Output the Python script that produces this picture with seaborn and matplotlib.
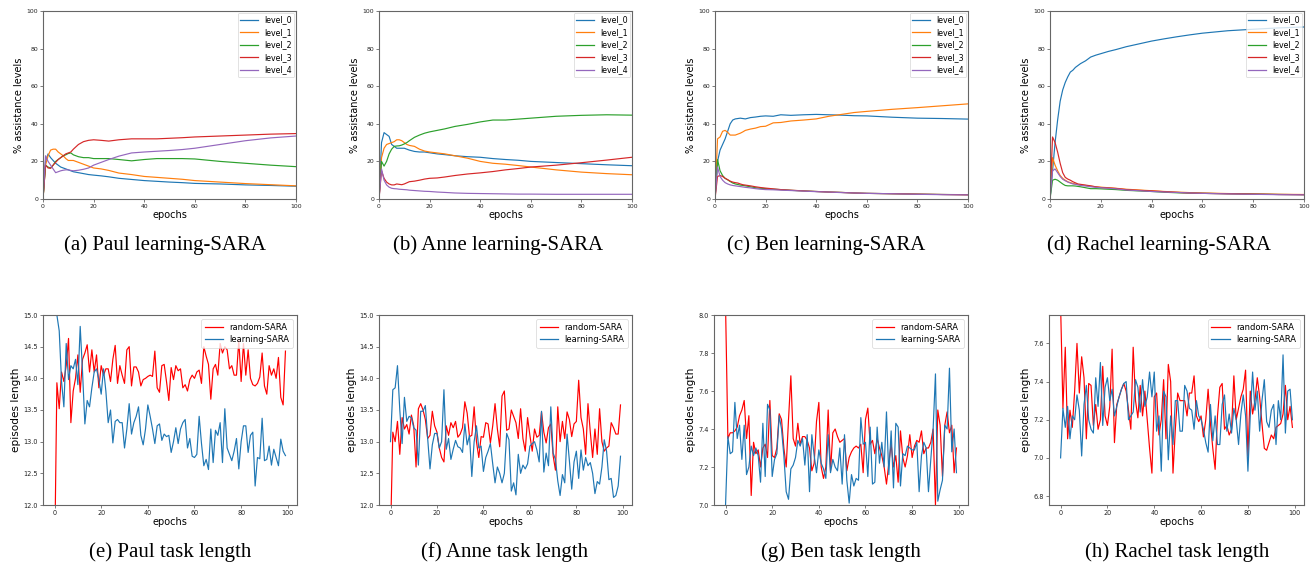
import pandas as pd
import seaborn as sns
import matplotlib.pyplot as plt

# ---- top row: % assistance levels (learning-SARA), read at these epochs
epochs_top = [0, 1, 2, 3, 4, 5, 6, 7, 8, 9, 10, 11, 12, 14, 16, 18, 20, 23, 26, 30,
              35, 40, 45, 50, 55, 60, 70, 80, 90, 100]

paul_l0 = [0, 20, 24, 22, 20.5, 19, 18, 17, 16.5, 16, 15.5, 15, 14.5, 14, 13.5, 13, 12.7, 12.3, 11.8, 11,
           10.4, 9.8, 9.4, 9, 8.7, 8.3, 8, 7.5, 7.2, 6.8]
paul_l1 = [0, 18, 23, 26, 26.5, 26.5, 25, 24, 23, 21.5, 20.5, 20.5, 20.5, 19.5, 18.5, 17.5, 16.5, 16, 15.2, 13.8,
           13, 12, 11.5, 11, 10.5, 9.8, 9, 8.2, 7.6, 7.0]
paul_l2 = [0, 18, 17, 16.5, 18, 20, 21, 22, 23, 23.5, 24.2, 24.5, 23.5, 22.5, 22, 22, 21.5, 21.5, 21.5, 21,
           20.3, 21, 21.5, 21.5, 21.5, 21.3, 20, 19, 18, 17.2]
paul_l3 = [0, 18, 16.5, 16.3, 18, 19.5, 21, 22, 23, 24, 24.5, 25, 26.5, 29, 30.5, 31.2, 31.5, 31.2, 30.8, 31.5,
           32, 32, 32, 32.3, 32.6, 33, 33.5, 34, 34.5, 34.8]
paul_l4 = [0, 23, 20, 18, 16, 14, 14.5, 15, 15.3, 15.5, 15.5, 15.2, 15, 15.3, 15.8, 16.5, 18, 19.5, 21, 22.8,
           24.5, 25, 25.4, 25.8, 26.3, 27, 29, 31, 32.5, 33.5]

anne_l0 = [0, 30, 35.3, 34.3, 33.3, 29, 28, 27, 27, 27, 27, 26.5, 26, 25.3, 25, 25, 24.6, 24, 23.6, 23,
           22.5, 22.2, 21.5, 21, 20.6, 20, 19.4, 18.8, 18.2, 17.7]
anne_l1 = [0, 22, 27, 29, 29.5, 30, 30.5, 31.5, 31.5, 31, 30, 29, 28.5, 28, 26.5, 25.5, 25, 24.5, 24, 23,
           21.7, 20, 19, 18.5, 17.8, 17, 15.5, 14.3, 13.5, 12.9]
anne_l2 = [0, 20, 17.5, 20, 24, 26.5, 28, 28.2, 28.3, 28.7, 29.3, 30, 31, 32.8, 34, 35, 35.7, 36.5, 37.3, 38.6,
           39.7, 41, 42, 42, 42.5, 43, 44, 44.5, 44.8, 44.6]
anne_l3 = [0, 15, 11, 9, 8, 7.5, 7.5, 8, 7.8, 7.6, 8, 8.6, 9.2, 9.5, 10, 10.6, 11, 11.2, 11.7, 12.5,
           13.3, 13.9, 14.6, 15.5, 16.2, 17, 18, 19.3, 20.7, 22.2]
anne_l4 = [0, 16, 10, 7.5, 6.3, 5.7, 5.5, 5.4, 5.2, 5.1, 5, 4.9, 4.7, 4.5, 4.3, 4.1, 4, 3.7, 3.5, 3.2,
           3, 2.9, 2.8, 2.7, 2.6, 2.6, 2.5, 2.5, 2.5, 2.5]

ben_l0 = [0, 20, 26, 29, 32, 36, 40, 42, 42.6, 42.8, 43, 42.8, 42.6, 43.3, 43.6, 44, 44.2, 44, 44.8, 44.5,
          44.8, 45, 44.8, 44.6, 44.3, 44.2, 43.5, 43, 42.8, 42.5]
ben_l1 = [0, 32, 33, 36, 36.5, 35.5, 34, 34, 34, 34.5, 35, 35.7, 36.5, 37.2, 37.7, 38.5, 38.7, 40.5, 40.7, 41.5,
          42, 42.6, 44, 45, 46, 46.6, 47.7, 48.6, 49.6, 50.6]
ben_l2 = [0, 21, 15, 12.5, 11, 10.2, 9.3, 8.5, 8, 7.7, 7.4, 7.2, 7, 6.5, 6, 5.7, 5.5, 5.2, 5, 4.6,
          4.3, 4, 3.7, 3.5, 3.2, 3, 2.8, 2.6, 2.4, 2.3]
ben_l3 = [0, 12, 12.5, 12, 11, 10.3, 9.5, 9, 8.7, 8.5, 8, 7.6, 7.4, 7, 6.5, 6.1, 5.8, 5.4, 5, 4.7,
          4.3, 4, 3.7, 3.5, 3.2, 3, 2.8, 2.6, 2.4, 2.2]
ben_l4 = [0, 17, 12, 10, 8.7, 8, 7.5, 7.2, 7, 6.8, 6.6, 6.4, 6.2, 5.9, 5.5, 5.2, 5, 4.9, 4.7, 4.5,
          4.2, 3.9, 3.7, 3.4, 3.2, 3, 2.8, 2.5, 2.3, 2.2]

rachel_l0 = [0, 15, 30, 42, 52, 58, 62, 65, 67.5, 68.5, 70, 71, 72, 73.5, 75.5, 76.5, 77.3, 78.5, 79.5, 81,
             82.5, 84, 85.2, 86.3, 87.3, 88.2, 89.5, 90.3, 91, 91.5]
rachel_l1 = [0, 22, 18, 15, 12.5, 11, 10, 9.2, 8.7, 8.3, 8, 7.7, 7.5, 7.2, 6.8, 6.5, 6.3, 6, 5.7, 5.2,
             4.8, 4.4, 4, 3.7, 3.4, 3.2, 2.9, 2.7, 2.5, 2.4]
rachel_l2 = [0, 10, 10.5, 10, 9, 8, 7.2, 7, 7, 7, 6.9, 6.7, 6.5, 6, 5.5, 5.5, 5.4, 5.2, 5, 4.6,
             4.3, 4, 3.6, 3.3, 3.1, 3, 2.8, 2.6, 2.4, 2.3]
rachel_l3 = [0, 33, 30, 25, 19, 14, 11.5, 10.6, 10, 9.2, 8.6, 8, 7.8, 7.4, 7, 6.5, 6.1, 5.9, 5.6, 5,
             4.6, 4.3, 3.9, 3.5, 3.2, 3, 2.8, 2.6, 2.4, 2.3]
rachel_l4 = [0, 15, 16, 14, 12, 10.5, 9.7, 9, 8.5, 8, 7.8, 7.5, 7.2, 6.9, 6.5, 6.2, 6, 5.7, 5.4, 4.8,
             4.4, 4, 3.7, 3.5, 3.2, 3, 2.7, 2.5, 2.3, 2.2]

levels = ["level_0", "level_1", "level_2", "level_3", "level_4"]

# ---- bottom row: episode length per epoch (0..99)
epochs_bot = list(range(100))

paul_random = [11.0, 13.93, 13.52, 14.1, 13.95, 14.2, 14.63, 13.3, 13.8, 14.0,
               14.37, 13.78, 14.3, 14.4, 14.53, 14.1, 14.45, 14.1, 14.37, 13.85,
               14.2, 14.05, 14.15, 14.15, 13.95, 14.3, 14.52, 13.92, 14.2, 14.05,
               13.92, 14.45, 14.5, 13.88, 14.18, 14.18, 14.1, 13.88, 13.98, 14.0,
               14.03, 14.05, 14.03, 14.43, 13.85, 13.78, 14.2, 14.22, 13.95, 13.65,
               14.17, 13.98, 14.2, 14.12, 14.15, 13.85, 13.9, 13.8, 13.98, 14.05,
               14.0, 14.1, 14.13, 13.92, 14.5, 14.35, 14.22, 13.67, 14.15, 14.22,
               14.05, 14.55, 14.4, 14.5, 14.45, 14.15, 14.2, 14.05, 14.05, 14.6,
               13.95, 14.55, 14.05, 14.45, 14.0, 13.9, 13.88, 13.92, 14.02, 14.4,
               13.88, 13.75, 14.2, 14.05, 14.15, 14.0, 14.33, 13.7, 13.58, 14.43]
paul_learning = [15.3, 15.0, 14.75, 13.95, 13.55, 14.55, 13.98, 14.2, 14.15, 14.3,
                 13.9, 14.82, 14.1, 13.28, 13.65, 13.55, 13.85, 14.1, 14.15, 13.98,
                 13.75, 14.15, 13.8, 13.3, 13.5, 12.98, 13.32, 13.35, 13.3, 13.3,
                 12.9, 13.2, 13.6, 13.12, 13.3, 13.4, 13.55, 13.1, 12.95, 13.2,
                 13.58, 13.4, 13.2, 12.97, 13.25, 13.28, 13.02, 13.12, 13.08, 13.1,
                 12.83, 13.0, 13.22, 12.97, 13.2, 13.3, 13.35, 12.9, 13.05, 12.77,
                 12.75, 12.8, 13.4, 12.97, 12.62, 12.72, 12.56, 13.2, 12.67, 13.18,
                 13.1, 13.3, 12.67, 13.52, 12.9, 12.8, 12.7, 12.85, 13.05, 12.57,
                 13.0, 13.25, 13.25, 12.83, 13.1, 13.15, 12.3, 12.75, 12.73, 13.37,
                 12.7, 12.72, 12.93, 12.63, 12.88, 12.75, 12.62, 13.04, 12.85, 12.78]

anne_random = [11.5, 13.15, 13.0, 13.32, 12.8, 13.38, 13.2, 13.27, 13.12, 13.42,
               13.25, 12.6, 13.52, 13.6, 13.5, 13.35, 13.05, 13.1, 13.48, 13.25,
               13.15, 12.9, 12.75, 12.68, 13.25, 13.1, 13.3, 13.22, 13.32, 13.07,
               13.12, 13.22, 13.63, 13.45, 13.08, 13.1, 13.55, 13.0, 12.75, 13.08,
               13.07, 13.3, 13.28, 12.98, 13.25, 13.6, 13.2, 12.92, 13.72, 13.8,
               13.18, 13.2, 13.5, 13.4, 13.3, 13.05, 13.52, 13.05, 12.85, 13.38,
               13.1, 12.85, 13.2, 13.07, 13.1, 13.47, 13.15, 12.98, 13.22, 13.28,
               12.78, 12.55, 13.55, 13.0, 13.32, 13.05, 13.47, 13.35, 13.08, 13.28,
               13.32, 13.97, 13.38, 13.2, 12.8, 13.6, 13.15, 12.75, 13.2, 12.8,
               13.52, 13.0, 12.85, 12.9, 12.93, 13.3, 13.22, 13.12, 13.12, 13.58]
anne_learning = [13.0, 13.82, 13.85, 14.2, 13.5, 12.97, 13.7, 13.32, 13.4, 13.38,
                 13.22, 13.18, 12.63, 13.48, 13.48, 13.57, 13.05, 12.57, 12.95, 13.13,
                 13.13, 12.9, 13.0, 13.82, 12.88, 13.05, 12.72, 12.88, 13.02, 12.92,
                 12.9, 12.83, 13.28, 12.95, 13.1, 12.45, 13.0, 13.25, 12.9, 12.93,
                 12.53, 12.75, 12.85, 12.97, 12.65, 12.35, 12.6, 12.5, 12.35, 12.5,
                 13.13, 13.03, 12.22, 12.35, 12.16, 12.8, 12.5, 12.63, 12.57, 12.65,
                 12.93, 12.97, 13.0, 12.87, 12.68, 13.48, 12.52, 12.82, 12.62, 13.55,
                 12.82, 12.72, 12.38, 12.15, 12.48, 12.35, 13.12, 12.7, 12.25, 12.68,
                 12.85, 12.42, 12.87, 12.55, 12.75, 12.62, 12.67, 12.5, 12.18, 12.37,
                 12.33, 12.6, 13.03, 12.85, 12.4, 12.42, 12.12, 12.15, 12.3, 12.77]

ben_random = [8.05, 7.35, 7.38, 7.38, 7.39, 7.41, 7.47, 7.5, 7.55, 7.35,
              7.47, 7.05, 7.33, 7.27, 7.29, 7.2, 7.3, 7.32, 7.25, 7.55,
              7.26, 7.25, 7.3, 7.48, 7.45, 7.3, 7.2, 7.45, 7.68, 7.35,
              7.31, 7.43, 7.32, 7.36, 7.36, 7.34, 7.3, 7.18, 7.22, 7.44,
              7.54, 7.2, 7.14, 7.2, 7.5, 7.18, 7.38, 7.4, 7.36, 7.33,
              7.34, 7.35, 7.18, 7.25, 7.28, 7.3, 7.31, 7.3, 7.32, 7.17,
              7.45, 7.51, 7.32, 7.34, 7.27, 7.35, 7.3, 7.26, 7.2, 7.11,
              7.22, 7.32, 7.2, 7.26, 7.12, 7.39, 7.25, 7.2, 7.26, 7.37,
              7.25, 7.31, 7.34, 7.33, 7.39, 7.27, 7.3, 7.3, 7.33, 7.4,
              7.0, 7.5, 7.42, 7.15, 7.42, 7.49, 7.38, 7.42, 7.17, 7.3]
ben_learning = [7.0, 7.36, 7.27, 7.28, 7.54, 7.35, 7.42, 7.24, 7.42, 7.16,
                7.2, 7.31, 7.26, 7.3, 7.26, 7.12, 7.43, 7.15, 7.53, 7.5,
                7.15, 7.24, 7.27, 7.47, 7.4, 7.26, 7.07, 7.03, 7.19, 7.21,
                7.25, 7.34, 7.31, 7.35, 7.21, 7.37, 7.07, 7.37, 7.26, 7.17,
                7.29, 7.22, 7.19, 7.14, 7.37, 7.17, 7.24, 7.2, 7.18, 7.3,
                7.11, 7.37, 7.13, 7.01, 7.16, 7.1, 7.14, 7.13, 7.46, 7.32,
                7.33, 7.15, 7.41, 7.11, 7.12, 7.41, 7.22, 7.33, 7.2, 7.49,
                7.16, 7.39, 7.09, 7.43, 7.41, 7.1, 7.27, 7.26, 7.31, 7.3,
                7.29, 7.29, 7.33, 7.07, 7.26, 7.33, 7.3, 7.07, 7.24, 7.4,
                7.69, 7.02, 7.08, 7.13, 7.42, 7.4, 7.72, 7.28, 7.4, 7.17]

rachel_random = [7.8, 7.26, 7.58, 7.1, 7.25, 7.16, 7.35, 7.6, 7.34, 7.53,
                 7.42, 7.1, 7.39, 7.38, 7.17, 7.28, 7.15, 7.2, 7.48, 7.22,
                 7.17, 7.27, 7.57, 7.08, 7.28, 7.32, 7.36, 7.39, 7.35, 7.25,
                 7.15, 7.58, 7.3, 7.21, 7.38, 7.22, 7.35, 7.2, 7.05, 6.92,
                 7.32, 7.34, 7.12, 7.2, 7.41, 7.1, 7.49, 7.4, 6.92, 7.15,
                 7.34, 7.3, 7.3, 7.3, 7.22, 7.34, 7.34, 7.43, 7.22, 7.19,
                 7.22, 7.11, 7.2, 7.36, 7.18, 7.05, 6.94, 7.22, 7.37, 7.39,
                 7.15, 7.17, 7.12, 7.15, 7.43, 7.2, 7.26, 7.32, 7.36, 7.46,
                 7.01, 7.35, 7.23, 7.3, 7.42, 7.32, 7.18, 7.05, 7.04, 7.08,
                 7.12, 7.1, 7.16, 7.17, 7.18, 7.23, 7.38, 7.2, 7.27, 7.16]
rachel_learning = [7.0, 7.26, 7.16, 7.27, 7.1, 7.22, 7.2, 7.33, 7.25, 7.01,
                   7.28, 7.38, 7.2, 7.15, 7.13, 7.42, 7.27, 7.5, 7.17, 7.37,
                   7.42, 7.3, 7.36, 7.22, 7.27, 7.32, 7.36, 7.39, 7.4, 7.2,
                   7.22, 7.24, 7.41, 7.37, 7.24, 7.41, 7.27, 7.32, 7.45, 7.32,
                   7.45, 7.14, 7.22, 6.93, 7.35, 7.32, 6.99, 7.22, 7.07, 7.3,
                   7.3, 7.14, 7.14, 7.38, 7.35, 7.26, 7.25, 7.15, 7.3, 7.22,
                   7.2, 7.15, 7.08, 7.03, 7.28, 7.09, 7.22, 7.07, 7.07, 7.28,
                   7.33, 7.14, 7.23, 7.13, 7.26, 7.2, 7.07, 7.23, 7.33, 7.22,
                   6.93, 7.22, 7.45, 7.25, 7.35, 7.14, 7.3, 7.41, 7.19, 7.16,
                   7.25, 7.28, 7.07, 7.3, 7.2, 7.54, 7.13, 7.35, 7.36, 7.2]

captions_top = ["(a) Paul learning-SARA", "(b) Anne learning-SARA",
                "(c) Ben learning-SARA", "(d) Rachel learning-SARA"]
captions_bot = ["(e) Paul task length", "(f) Anne task length",
                "(g) Ben task length", "(h) Rachel task length"]

W, H = 1314, 565
SPINE = "#666666"


def px_axes(fig, x0, x1, ytop, ybot):
    return fig.add_axes([x0 / W, 1 - ybot / H, (x1 - x0) / W, (ybot - ytop) / H])


def style_axes(ax, tick_fs):
    for s in ax.spines.values():
        s.set_color(SPINE)
        s.set_linewidth(0.8)
    ax.tick_params(labelsize=tick_fs, length=2, width=0.6, color=SPINE,
                   labelcolor="#222222", pad=1.5)


def draw_levels(ax, series):
    rows = []
    for name, vals in zip(levels, series):
        for e, v in zip(epochs_top, vals):
            rows.append({"epochs": e, "pct": v, "level": name})
    df = pd.DataFrame(rows)
    sns.lineplot(data=df, x="epochs", y="pct", hue="level", hue_order=levels,
                 palette=sns.color_palette("tab10", 5), linewidth=0.85,
                 errorbar=None, ax=ax)
    ax.set_xlim(0, 100)
    ax.set_ylim(0, 100)
    ax.set_xticks([0, 20, 40, 60, 80, 100])
    ax.set_yticks([0, 20, 40, 60, 80, 100])
    ax.set_xlabel("epochs", fontsize=7, labelpad=1)
    ax.set_ylabel("% assistance levels", fontsize=7, labelpad=2)
    style_axes(ax, 4.4)
    leg = ax.legend(loc="upper right", fontsize=5.7, borderaxespad=0.2,
                    handlelength=2.2, labelspacing=0.45, borderpad=0.35)
    for ln in leg.get_lines():
        ln.set_linewidth(0.9)
    leg.get_frame().set_linewidth(0.5)


def draw_lengths(ax, random_vals, learning_vals, ylim, yticks, fmt):
    df = pd.DataFrame({
        "epochs": epochs_bot * 2,
        "length": random_vals + learning_vals,
        "method": ["random-SARA"] * 100 + ["learning-SARA"] * 100,
    })
    sns.lineplot(data=df, x="epochs", y="length", hue="method",
                 hue_order=["random-SARA", "learning-SARA"],
                 palette={"random-SARA": "red", "learning-SARA": "tab:blue"},
                 linewidth=0.85, errorbar=None, ax=ax)
    ax.set_ylim(*ylim)
    ax.set_yticks(yticks)
    ax.set_yticklabels([fmt.format(t) for t in yticks])
    ax.set_xticks([0, 20, 40, 60, 80, 100])
    ax.set_xlabel("epochs", fontsize=7, labelpad=1)
    ax.set_ylabel("episodes length", fontsize=7.6, labelpad=2)
    style_axes(ax, 4.7)
    leg = ax.legend(loc="upper right", fontsize=6, handlelength=2.2,
                    labelspacing=0.45, borderpad=0.4)
    for ln in leg.get_lines():
        ln.set_linewidth(0.9)
    leg.get_frame().set_linewidth(0.5)


fig = plt.figure(figsize=(W / 100, H / 100), dpi=100)

top_x = [(43, 296), (379, 632), (715, 968), (1050, 1304)]
bot_x = [(43, 297), (379, 632), (714, 968), (1049, 1304)]
top_data = [
    [paul_l0, paul_l1, paul_l2, paul_l3, paul_l4],
    [anne_l0, anne_l1, anne_l2, anne_l3, anne_l4],
    [ben_l0, ben_l1, ben_l2, ben_l3, ben_l4],
    [rachel_l0, rachel_l1, rachel_l2, rachel_l3, rachel_l4],
]
bot_data = [
    (paul_random, paul_learning, (12.0, 15.0), [12.0, 12.5, 13.0, 13.5, 14.0, 14.5, 15.0], "{:.1f}"),
    (anne_random, anne_learning, (12.0, 15.0), [12.0, 12.5, 13.0, 13.5, 14.0, 14.5, 15.0], "{:.1f}"),
    (ben_random, ben_learning, (7.0, 8.0), [7.0, 7.2, 7.4, 7.6, 7.8, 8.0], "{:.1f}"),
    (rachel_random, rachel_learning, (6.753, 7.749), [6.8, 7.0, 7.2, 7.4, 7.6], "{:.1f}"),
]
cap_top_x = [165, 498, 826, 1159]
cap_bot_x = [170, 505, 841, 1177]

for (x0, x1), series, cap, cx in zip(top_x, top_data, captions_top, cap_top_x):
    ax = px_axes(fig, x0, x1, 11, 199)
    draw_levels(ax, series)
    fig.text(cx / W, 1 - 245 / H, cap, ha="center", va="center",
             family="Liberation Serif", fontsize=15)

for (x0, x1), (rv, lv, yl, yt, fmt), cap, cx in zip(bot_x, bot_data, captions_bot, cap_bot_x):
    ax = px_axes(fig, x0, x1, 315, 505)
    draw_lengths(ax, rv, lv, yl, yt, fmt)
    fig.text(cx / W, 1 - 552 / H, cap, ha="center", va="center",
             family="Liberation Serif", fontsize=15)

fig.savefig("out.png", dpi=100)
